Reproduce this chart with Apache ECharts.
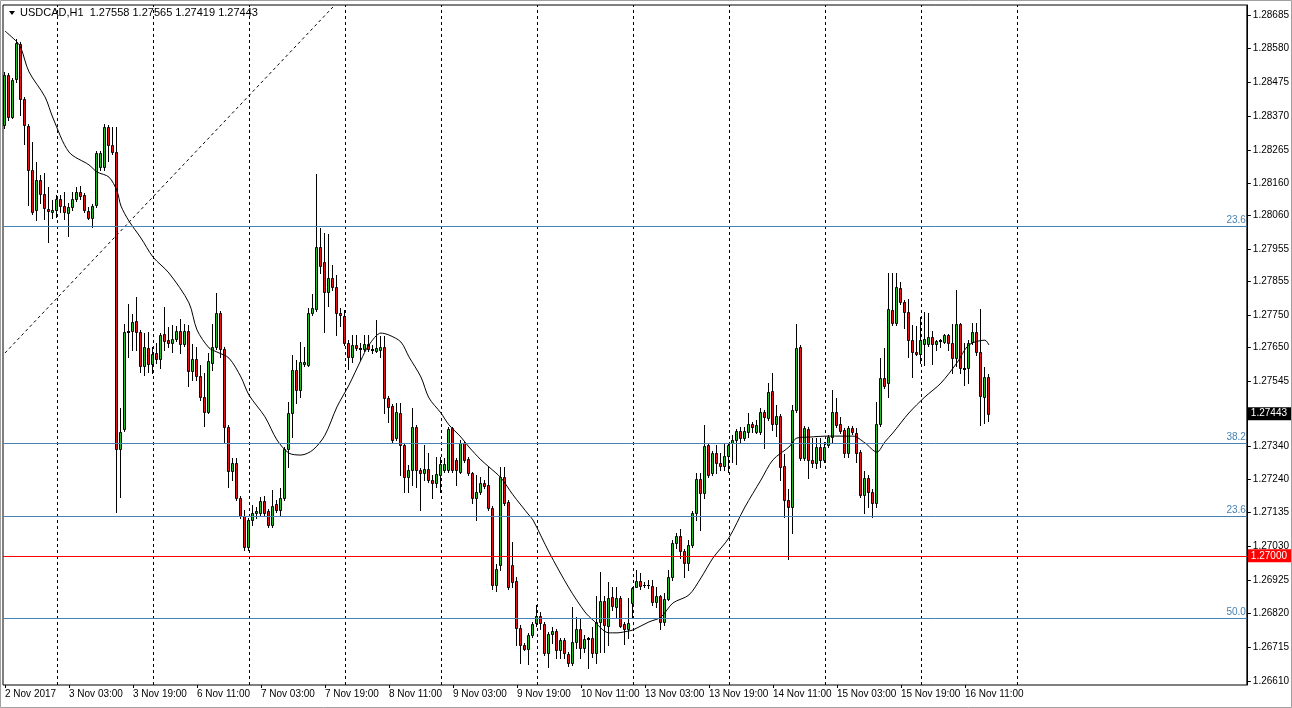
<!DOCTYPE html>
<html><head><meta charset="utf-8">
<script src="https://cdn.jsdelivr.net/npm/echarts@6/dist/echarts.min.js"></script>
<style>html,body{margin:0;padding:0;background:#fff}#c{width:1292px;height:708px}</style>
</head><body><div id="c"></div>
<script>
const titleText = 'USDCAD,H1  1.27558 1.27565 1.27419 1.27443';
const xLabels = ['2 Nov 2017','3 Nov 03:00','3 Nov 19:00','6 Nov 11:00','7 Nov 03:00','7 Nov 19:00','8 Nov 11:00','9 Nov 03:00','9 Nov 19:00','10 Nov 11:00','13 Nov 03:00','13 Nov 19:00','14 Nov 11:00','15 Nov 03:00','15 Nov 19:00','16 Nov 11:00'];
const labelStep = 16;
const slotCount = 311;
const yTicks = [1.28685,1.28580,1.28475,1.28370,1.28265,1.28160,1.28060,1.27955,1.27855,1.27750,1.27650,1.27545,1.27340,1.27240,1.27135,1.27030,1.26925,1.26820,1.26715,1.26610];
const yMin = 1.265975, yMax = 1.287162;

const openP = [1.28343,1.28498,1.28367,1.28486,1.28595,1.28424,1.28339,1.28202,1.28078,1.28171,1.28128,1.28081,1.28072,1.28078,1.28112,1.28090,1.28068,1.28087,1.28112,1.28134,1.28125,1.28075,1.28053,1.28093,1.28212,1.28212,1.28336,1.28280,1.28258,1.27333,
1.27395,1.27698,1.27701,1.27732,1.27698,1.27592,1.27648,1.27598,1.27632,1.27614,1.27691,1.27673,1.27663,1.27676,1.27701,1.27660,1.27701,1.27576,1.27614,1.27561,
1.27495,1.27448,1.27601,1.27651,1.27757,1.27645,1.27402,1.27265,1.27289,1.27180,1.27124,1.27028,1.27112,1.27134,1.27134,1.27171,1.27140,1.27096,1.27162,1.27143,
1.27180,1.27333,1.27445,1.27579,1.27517,1.27598,1.27595,1.27757,1.27769,1.27963,1.27916,1.27823,1.27866,1.27838,1.27757,1.27748,1.27663,1.27620,1.27657,1.27648,
1.27645,1.27660,1.27645,1.27638,1.27642,1.27651,1.27492,1.27467,1.27367,1.27445,1.27346,1.27246,1.27268,1.27402,1.27268,1.27258,1.27271,1.27237,1.27227,1.27252,
1.27268,1.27268,1.27399,1.27299,1.27261,1.27352,1.27302,1.27258,1.27180,1.27199,1.27227,1.27221,1.27149,1.26910,1.26972,1.27246,1.27168,1.26972,1.26922,1.26775,
1.26722,1.26710,1.26754,1.26791,1.26813,1.26788,1.26697,1.26757,1.26766,1.26707,1.26738,1.26694,1.26666,1.26732,1.26772,1.26713,1.26741,1.26744,1.26697,1.26794,
1.26860,1.26782,1.26872,1.26841,1.26869,1.26788,1.26772,1.26853,1.26903,1.26922,1.26909,1.26909,1.26906,1.26856,1.26875,1.26794,1.26866,1.26934,1.27040,1.27062,
1.27015,1.26978,1.27034,1.27134,1.27240,1.27196,1.27346,1.27258,1.27321,1.27289,1.27280,1.27311,1.27352,1.27361,1.27389,1.27367,1.27386,1.27411,1.27386,1.27386,
1.27448,1.27430,1.27514,1.27411,1.27436,1.27280,1.27174,1.27152,1.27455,1.27651,1.27305,1.27395,1.27299,1.27289,1.27339,1.27299,1.27346,1.27370,1.27448,1.27411,
1.27392,1.27321,1.27399,1.27383,1.27324,1.27190,1.27243,1.27199,1.27165,1.27411,1.27554,1.27539,1.27766,1.27726,1.27835,1.27791,1.27760,1.27673,1.27635,1.27629,
1.27660,1.27660,1.27682,1.27660,1.27670,1.27666,1.27688,1.27663,1.27617,1.27723,1.27585,1.27585,1.27666,1.27698,1.27635,1.27495,1.27558];
const highP = [1.28508,1.28505,1.28489,1.28610,1.28601,1.28430,1.28346,1.28290,1.28227,1.28187,1.28193,1.28149,1.28109,1.28125,1.28125,1.28134,1.28100,1.28134,1.28149,1.28152,1.28131,1.28087,1.28096,1.28262,1.28262,1.28346,1.28343,1.28336,1.28336,1.27461,
1.27723,1.27785,1.27754,1.27807,1.27704,1.27695,1.27698,1.27651,1.27663,1.27695,1.27775,1.27713,1.27719,1.27716,1.27738,1.27723,1.27719,1.27660,1.27651,1.27595,
1.27570,1.27632,1.27723,1.27820,1.27764,1.27651,1.27408,1.27305,1.27305,1.27187,1.27143,1.27118,1.27159,1.27152,1.27184,1.27187,1.27146,1.27205,1.27174,1.27212,
1.27339,1.27480,1.27626,1.27610,1.27667,1.27651,1.27772,1.27817,1.28190,1.28022,1.28006,1.28003,1.27906,1.27876,1.27772,1.27767,1.27673,1.27688,1.27688,1.27663,
1.27688,1.27688,1.27657,1.27735,1.27685,1.27685,1.27498,1.27473,1.27476,1.27476,1.27352,1.27283,1.27461,1.27408,1.27274,1.27346,1.27321,1.27252,1.27308,1.27308,
1.27305,1.27402,1.27402,1.27305,1.27361,1.27358,1.27308,1.27261,1.27252,1.27246,1.27237,1.27277,1.27155,1.26975,1.27277,1.27277,1.27174,1.27043,1.26934,1.26785,
1.26729,1.26760,1.26794,1.26847,1.26825,1.26794,1.26763,1.26779,1.26772,1.26744,1.26744,1.26700,1.26841,1.26810,1.26803,1.26754,1.26748,1.26779,1.26875,1.26950,
1.26875,1.26919,1.26903,1.26903,1.26875,1.26794,1.26869,1.26903,1.26956,1.26946,1.26919,1.26925,1.26925,1.26903,1.26878,1.26884,1.26956,1.27050,1.27071,1.27084,
1.27022,1.27050,1.27140,1.27258,1.27258,1.27408,1.27352,1.27327,1.27346,1.27321,1.27349,1.27352,1.27377,1.27395,1.27402,1.27402,1.27445,1.27417,1.27424,1.27461,
1.27455,1.27539,1.27570,1.27470,1.27443,1.27318,1.27208,1.27470,1.27723,1.27657,1.27405,1.27402,1.27367,1.27367,1.27367,1.27355,1.27377,1.27517,1.27492,1.27433,
1.27399,1.27405,1.27405,1.27399,1.27330,1.27265,1.27252,1.27208,1.27480,1.27617,1.27648,1.27882,1.27882,1.27882,1.27853,1.27797,1.27800,1.27719,1.27716,1.27744,
1.27760,1.27757,1.27701,1.27673,1.27676,1.27691,1.27691,1.27723,1.27828,1.27726,1.27663,1.27673,1.27726,1.27726,1.27769,1.27589,1.27565];
const lowP = [1.28333,1.28358,1.28364,1.28476,1.28374,1.28283,1.28093,1.28065,1.28047,1.28100,1.28050,1.27978,1.28053,1.28056,1.28072,1.28050,1.27997,1.28078,1.28106,1.28112,1.28072,1.28050,1.28025,1.28087,1.28202,1.28202,1.28230,1.28252,1.27137,1.27184,
1.27389,1.27620,1.27642,1.27642,1.27573,1.27564,1.27573,1.27570,1.27601,1.27585,1.27642,1.27651,1.27635,1.27670,1.27632,1.27654,1.27529,1.27548,1.27548,1.27486,
1.27405,1.27445,1.27579,1.27645,1.27620,1.27352,1.27215,1.27237,1.27174,1.27118,1.27019,1.27019,1.27096,1.27118,1.27124,1.27127,1.27090,1.27090,1.27137,1.27127,
1.27174,1.27277,1.27370,1.27476,1.27495,1.27592,1.27592,1.27751,1.27764,1.27882,1.27698,1.27779,1.27828,1.27688,1.27716,1.27657,1.27582,1.27604,1.27642,1.27610,
1.27638,1.27638,1.27632,1.27635,1.27620,1.27445,1.27417,1.27355,1.27361,1.27252,1.27199,1.27199,1.27221,1.27215,1.27143,1.27237,1.27230,1.27180,1.27215,1.27199,
1.27261,1.27261,1.27261,1.27221,1.27258,1.27293,1.27252,1.27165,1.27112,1.27193,1.27212,1.27143,1.26897,1.26890,1.26956,1.27158,1.26897,1.26903,1.26722,1.26666,
1.26707,1.26663,1.26748,1.26782,1.26772,1.26691,1.26654,1.26729,1.26682,1.26682,1.26682,1.26657,1.26660,1.26713,1.26682,1.26700,1.26651,1.26685,1.26666,1.26700,
1.26700,1.26722,1.26831,1.26810,1.26779,1.26726,1.26744,1.26807,1.26903,1.26897,1.26903,1.26900,1.26847,1.26841,1.26772,1.26785,1.26863,1.26925,1.27025,1.26992,
1.26934,1.26956,1.27028,1.27112,1.27081,1.27180,1.27246,1.27252,1.27258,1.27268,1.27268,1.27261,1.27293,1.27286,1.27355,1.27361,1.27370,1.27386,1.27383,1.27380,
1.27336,1.27424,1.27392,1.27374,1.27237,1.27121,1.26990,1.27071,1.27448,1.27299,1.27299,1.27243,1.27277,1.27274,1.27277,1.27293,1.27339,1.27355,1.27402,1.27383,
1.27308,1.27308,1.27380,1.27293,1.27184,1.27134,1.27152,1.27121,1.27152,1.27405,1.27523,1.27495,1.27719,1.27719,1.27785,1.27710,1.27620,1.27557,1.27626,1.27601,
1.27595,1.27654,1.27598,1.27642,1.27651,1.27663,1.27642,1.27570,1.27592,1.27570,1.27533,1.27539,1.27660,1.27626,1.27408,1.27414,1.27419];
const closeP = [1.28498,1.28367,1.28483,1.28598,1.28424,1.28343,1.28202,1.28072,1.28171,1.28128,1.28084,1.28075,1.28078,1.28112,1.28090,1.28072,1.28087,1.28112,1.28134,1.28121,1.28078,1.28053,1.28090,1.28255,1.28255,1.28336,1.28280,1.28258,1.27333,1.27386,
1.27698,1.27701,1.27729,1.27698,1.27592,1.27651,1.27598,1.27629,1.27614,1.27688,1.27670,1.27663,1.27676,1.27701,1.27660,1.27701,1.27576,1.27614,1.27561,1.27495,
1.27448,1.27607,1.27651,1.27757,1.27645,1.27402,1.27265,1.27289,1.27180,1.27124,1.27028,1.27112,1.27134,1.27140,1.27171,1.27134,1.27096,1.27155,1.27143,1.27180,
1.27333,1.27445,1.27579,1.27517,1.27604,1.27604,1.27757,1.27772,1.27963,1.27903,1.27823,1.27866,1.27838,1.27757,1.27751,1.27663,1.27620,1.27657,1.27648,1.27645,
1.27660,1.27645,1.27642,1.27648,1.27651,1.27492,1.27464,1.27361,1.27448,1.27346,1.27246,1.27268,1.27402,1.27268,1.27258,1.27271,1.27237,1.27227,1.27255,1.27286,
1.27286,1.27395,1.27268,1.27268,1.27352,1.27299,1.27258,1.27180,1.27199,1.27227,1.27218,1.27149,1.26910,1.26960,1.27246,1.27165,1.26903,1.26919,1.26775,1.26722,
1.26710,1.26754,1.26788,1.26813,1.26791,1.26697,1.26757,1.26766,1.26707,1.26738,1.26697,1.26666,1.26732,1.26772,1.26713,1.26741,1.26744,1.26697,1.26794,1.26860,
1.26785,1.26869,1.26844,1.26869,1.26782,1.26772,1.26791,1.26900,1.26922,1.26906,1.26910,1.26908,1.26856,1.26875,1.26794,1.26866,1.26934,1.27040,1.27062,1.27015,
1.26978,1.27034,1.27134,1.27240,1.27196,1.27342,1.27252,1.27321,1.27289,1.27280,1.27311,1.27346,1.27361,1.27389,1.27367,1.27389,1.27411,1.27402,1.27408,1.27448,
1.27433,1.27511,1.27411,1.27436,1.27277,1.27174,1.27152,1.27455,1.27648,1.27305,1.27399,1.27299,1.27289,1.27339,1.27299,1.27339,1.27370,1.27448,1.27408,1.27389,
1.27321,1.27399,1.27386,1.27321,1.27190,1.27243,1.27199,1.27165,1.27411,1.27554,1.27529,1.27769,1.27726,1.27838,1.27791,1.27760,1.27673,1.27635,1.27629,1.27673,
1.27676,1.27682,1.27660,1.27670,1.27671,1.27688,1.27663,1.27617,1.27723,1.27585,1.27582,1.27663,1.27698,1.27635,1.27498,1.27557,1.27443];

const maPoints = [[0,1.28635],[3,1.28601],[4,1.28582],[6,1.28508],[10,1.28430],[12,1.28364],[16,1.28258],[21,1.28218],[23,1.28196],[26,1.28180],[28,1.28137],[29,1.28090],[31,1.28043],[34,1.27990],[37,1.27931],[41,1.27881],[46,1.27788],[48,1.27704],[51,1.27648],[53,1.27635],[56,1.27616],[59,1.27557],[61,1.27501],[65,1.27433],[68,1.27361],[71,1.27320],[74,1.27314],[77,1.27330],[80,1.27376],[83,1.27464],[86,1.27532],[89,1.27610],[91,1.27657],[94,1.27694],[96,1.27688],[99,1.27666],[101,1.27620],[104,1.27557],[106,1.27492],[109,1.27445],[111,1.27408],[114,1.27370],[116,1.27339],[119,1.27299],[121,1.27277],[124,1.27243],[127,1.27190],[131,1.27127],[132,1.27112],[136,1.27012],[141,1.26900],[145,1.26825],[147,1.26800],[151,1.26760],[153,1.26760],[156,1.26766],[157,1.26769],[161,1.26794],[164,1.26809],[167,1.26853],[171,1.26878],[174,1.26931],[177,1.26993],[181,1.27056],[185,1.27152],[189,1.27236],[192,1.27299],[196,1.27339],[198,1.27367],[201,1.27370],[206,1.27373],[212,1.27373],[215,1.27352],[218,1.27323],[220,1.27355],[222,1.27383],[226,1.27445],[230,1.27495],[234,1.27538],[238,1.27601],[241,1.27657],[245,1.27672],[246,1.27657]];

const daySeparators = [13,37,61,85,109,133,157,181,205,229,253];
const fibLevels = [1.28028,1.27352,1.27124,1.26806];
const fibNames = ['23.6','38.2','23.6','50.0'];
const keyLevel = 1.27000;
const bidPrice = 1.27443;
const trendLine = [[0,1.27632],[82,1.28710]];

const FONT = 'Liberation Sans, Arial, sans-serif';
const BULL = '#1fbf1f', BEAR = '#e81010';
const categories = Array.from({length: slotCount}, (_, i) => String(i));
const candleRows = openP.map((o, i) => [i, o, closeP[i], lowP[i], highP[i]]);
const lastLabelIdx = labelStep * (xLabels.length - 1);
const isLabelIdx = (idx) => idx % labelStep === 0 && idx <= lastLabelIdx;

function renderCandle(params, api) {
  const i = api.value(0);
  const o = api.value(1), c = api.value(2), l = api.value(3), h = api.value(4);
  const pO = api.coord([i, o]), pC = api.coord([i, c]), pL = api.coord([i, l]), pH = api.coord([i, h]);
  const cx = Math.floor(pO[0]);
  const yTop = Math.round(Math.min(pO[1], pC[1]));
  const yBot = Math.round(Math.max(pO[1], pC[1]));
  const yH = Math.round(pH[1]), yL = Math.round(pL[1]);
  const children = [
    {type: 'line', shape: {x1: cx + 0.5, y1: yH, x2: cx + 0.5, y2: yL + 1}, style: {stroke: '#000', lineWidth: 1}}
  ];
  if (yBot - yTop >= 2) {
    children.push({type: 'rect', shape: {x: cx - 0.5, y: yTop + 0.5, width: 2, height: yBot - yTop},
      style: {fill: c >= o ? BULL : BEAR, stroke: '#000', lineWidth: 1}});
  } else {
    children.push({type: 'rect', shape: {x: cx - 1, y: yTop, width: 3, height: Math.max(1, yBot - yTop + 1)}, style: {fill: '#000'}});
  }
  return {type: 'group', children};
}

const chart = echarts.init(document.getElementById('c'), null, {renderer: 'canvas'});
chart.setOption({
  animation: false,
  backgroundColor: '#ffffff',
  grid: {left: 3, right: 45, top: 5, bottom: 23, show: true, borderColor: '#000', borderWidth: 1, backgroundColor: '#fff'},
  xAxis: {
    type: 'category', data: categories, boundaryGap: true,
    axisLine: {show: false},
    axisTick: {show: true, alignWithLabel: true, interval: (idx) => isLabelIdx(idx), length: 3, lineStyle: {color: '#000'}},
    axisLabel: {interval: (idx) => isLabelIdx(idx), formatter: (v, idx) => xLabels[Math.round(Number(v) / labelStep)] || '', align: 'left', margin: 4, fontSize: 10, color: '#000', fontFamily: FONT},
    splitLine: {show: false}
  },
  yAxis: {
    type: 'value', position: 'right', min: yMin, max: yMax, scale: true,
    axisLine: {show: true, lineStyle: {color: '#000'}},
    axisTick: {show: true, length: 4, customValues: yTicks, lineStyle: {color: '#000'}},
    axisLabel: {customValues: yTicks, formatter: (v) => v.toFixed(5), margin: 6, fontSize: 10, color: '#000', fontFamily: FONT},
    splitLine: {show: false}
  },
  series: [
    {
      type: 'line', data: trendLine, z: 1, silent: true, showSymbol: false, symbol: 'none',
      lineStyle: {color: '#000', width: 1, type: [3, 3]},
      markLine: {
        silent: true, symbol: ['none', 'none'], animation: false, precision: 5,
        label: {show: false},
        lineStyle: {color: '#000', width: 1, type: [3, 3]},
        data: daySeparators.map((d) => ({xAxis: d}))
      }
    },
    {
      type: 'custom', data: candleRows, z: 2, silent: true, clip: true,
      encode: {x: 0, y: [1, 2, 3, 4]},
      renderItem: renderCandle
    },
    {
      type: 'line', data: maPoints, z: 3, silent: true, showSymbol: false, symbol: 'none', smooth: 0.3,
      lineStyle: {color: '#000', width: 1},
      markLine: {
        silent: true, symbol: ['none', 'none'], animation: false, precision: 5,
        data: fibLevels.map((v, k) => ({
          yAxis: v,
          lineStyle: {color: '#4682b4', width: 1, type: 'solid'},
          label: {show: true, position: 'insideEndTop', formatter: fibNames[k], color: '#4682b4', fontSize: 10, fontFamily: FONT, distance: [1, 1]}
        })).concat([
          {yAxis: keyLevel, lineStyle: {color: '#ff0000', width: 1, type: 'solid'},
           label: {show: true, position: 'end', formatter: keyLevel.toFixed(5), color: '#fff', backgroundColor: '#ff0000', padding: [2, 4, 1, 3], fontSize: 10, fontFamily: FONT, distance: 1}},
          {yAxis: bidPrice, lineStyle: {color: 'rgba(0,0,0,0)', width: 1},
           label: {show: true, position: 'end', formatter: bidPrice.toFixed(5), color: '#fff', backgroundColor: '#000', padding: [2, 4, 1, 3], fontSize: 10, fontFamily: FONT, distance: 1}}
        ])
      }
    }
  ],
  graphic: [
    {type: 'rect', silent: true, shape: {x: 0.5, y: 0.5, width: 1291, height: 707}, style: {fill: 'none', stroke: '#a0a0a0', lineWidth: 1}, z: 100},
    {type: 'polygon', silent: true, shape: {points: [[9, 11], [15, 11], [12, 15]]}, style: {fill: '#000'}, z: 100},
    {type: 'text', silent: true, x: 20, y: 13, style: {text: titleText, fill: '#000', font: '11px ' + FONT, textVerticalAlign: 'middle'}, z: 100}
  ]
});
</script></body></html>
